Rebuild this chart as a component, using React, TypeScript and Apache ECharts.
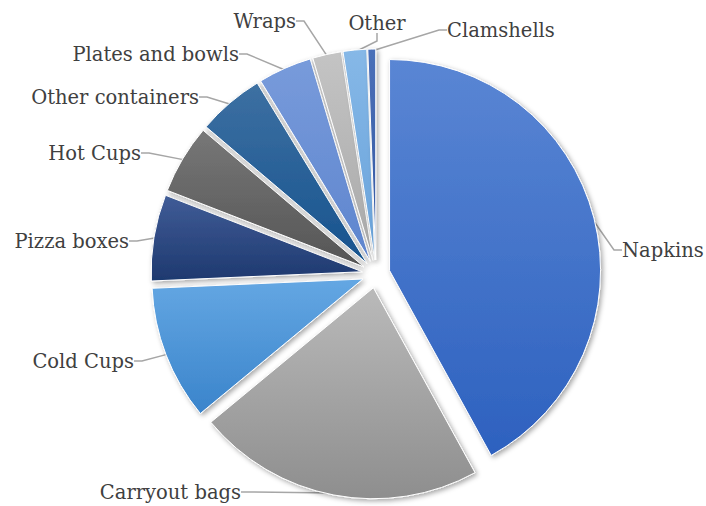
import React, { useEffect, useRef } from 'react';
import * as echarts from 'echarts';

const categories = [
  'Napkins',
  'Carryout bags',
  'Cold Cups',
  'Pizza boxes',
  'Hot Cups',
  'Other containers',
  'Plates and bowls',
  'Wraps',
  'Other',
  'Clamshells',
];
const shares = [42.0, 22.0, 10.3, 6.6, 5.3, 5.1, 4.1, 2.2, 1.8, 0.6];

const topColors = ['#5a86d4', '#bababa', '#64a7e3', '#405c97', '#777777', '#3d70a2', '#789bdb', '#c4c4c4', '#86b8e7', '#4b70b9'];
const bottomColors = ['#2d61bf', '#8e8e8e', '#3a84cb', '#1e396f', '#555555', '#17538e', '#5e85ce', '#a8a8a8', '#68a2da', '#33579f'];

const labelX = [622, 241, 134, 129, 141, 199, 239, 296, 377, 447];
const labelY = [250, 492, 361, 241, 153, 97, 54, 21, 23, 30];
const labelAlign = ['left', 'right', 'right', 'right', 'right', 'right', 'right', 'right', 'center', 'left'];

export default function App() {
  const ref = useRef<HTMLDivElement>(null);
  useEffect(() => {
    const chart = echarts.init(ref.current!, undefined, { renderer: 'svg' });
    const center = [376, 274];
    chart.setOption({
      animation: false,
      backgroundColor: '#ffffff',
      series: [
        {
          // invisible pie that carries the labels and leader lines
          type: 'pie',
          center,
          radius: 223,
          startAngle: 90,
          clockwise: true,
          silent: true,
          z: 1,
          avoidLabelOverlap: false,
          data: categories.map((name, i) => ({ name, value: shares[i] })),
          itemStyle: { color: 'rgba(0,0,0,0)', borderWidth: 0 },
          label: {
            show: true,
            position: 'outside',
            color: '#404040',
            fontFamily: 'DejaVu Serif',
            fontSize: 19.5,
            formatter: '{b}',
          },
          labelLine: {
            show: true,
            length: 10,
            length2: 8,
            smooth: false,
            lineStyle: { color: '#a6a6a6', width: 1.5 },
          },
          labelLayout: (p: any) => ({
            x: labelX[p.dataIndex],
            y: labelY[p.dataIndex],
            align: labelAlign[p.dataIndex],
            verticalAlign: 'middle',
          }),
          emphasis: { disabled: true },
        },
        {
          type: 'pie',
          center,
          radius: 211,
          startAngle: 90,
          clockwise: true,
          z: 2,
          selectedMode: 'multiple',
          selectedOffset: 14,
          avoidLabelOverlap: false,
          label: { show: false },
          labelLine: { show: false },
          data: categories.map((name, i) => ({
            name,
            value: shares[i],
            selected: true,
            itemStyle: {
              color: new echarts.graphic.LinearGradient(0, 0, 0, 1, [
                { offset: 0, color: topColors[i] },
                { offset: 1, color: bottomColors[i] },
              ]),
            },
          })),
          itemStyle: {
            borderColor: '#ffffff',
            borderWidth: 1,
            shadowBlur: 5,
            shadowColor: 'rgba(0,0,0,0.35)',
            shadowOffsetX: 2,
            shadowOffsetY: 2,
          },
          emphasis: { disabled: true },
        },
      ],
    });
    return () => chart.dispose();
  }, []);
  return (
    <div
      ref={ref}
      style={{ position: 'fixed', left: 0, top: 0, width: 706, height: 506 }}
    />
  );
}
